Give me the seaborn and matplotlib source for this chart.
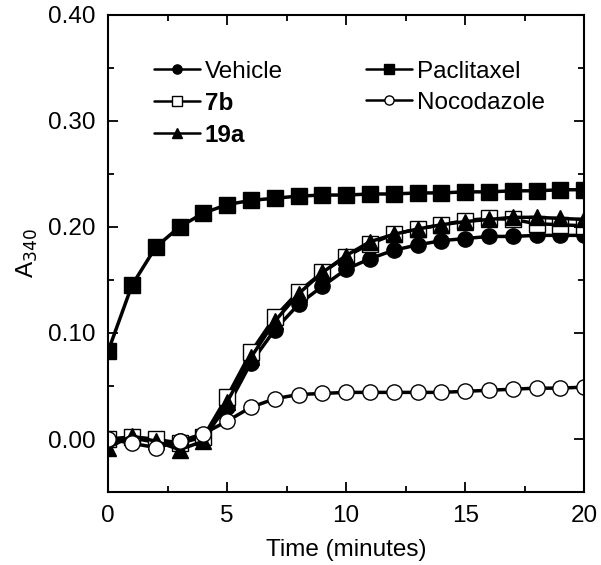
import numpy as np
import seaborn as sns
import matplotlib.pyplot as plt
from matplotlib.ticker import MultipleLocator, FormatStrFormatter

time_min = list(range(0, 21))

vehicle = [0.000, 0.001, -0.003, -0.002, 0.003, 0.030, 0.072, 0.103, 0.127, 0.144,
           0.160, 0.170, 0.178, 0.183, 0.187, 0.189, 0.191, 0.191, 0.192, 0.192, 0.192]
cmpd_7b = [0.000, 0.002, 0.000, -0.004, 0.002, 0.040, 0.082, 0.115, 0.139, 0.157,
           0.172, 0.184, 0.193, 0.198, 0.202, 0.206, 0.208, 0.207, 0.203, 0.202, 0.201]
cmpd_19a = [-0.008, 0.003, -0.002, -0.010, -0.002, 0.035, 0.077, 0.111, 0.137, 0.157,
            0.173, 0.186, 0.193, 0.198, 0.202, 0.205, 0.207, 0.209, 0.209, 0.208, 0.207]
paclitaxel = [0.083, 0.145, 0.181, 0.200, 0.213, 0.221, 0.225, 0.227, 0.229, 0.230,
              0.230, 0.231, 0.231, 0.232, 0.232, 0.233, 0.233, 0.234, 0.234, 0.235, 0.235]
nocodazole = [0.000, -0.004, -0.008, -0.002, 0.005, 0.017, 0.030, 0.038, 0.042, 0.043,
              0.044, 0.044, 0.044, 0.044, 0.044, 0.045, 0.046, 0.047, 0.048, 0.048, 0.049]

sns.set_style("ticks")
plt.rcParams['font.family'] = ['Liberation Sans', 'DejaVu Sans']
plt.rcParams['text.color'] = 'black'
plt.rcParams['axes.labelcolor'] = 'black'
plt.rcParams['xtick.color'] = 'black'
plt.rcParams['ytick.color'] = 'black'
plt.rcParams['axes.edgecolor'] = 'black'

fig, ax = plt.subplots(figsize=(6.01, 5.65), dpi=100)
fig.subplots_adjust(left=0.18, right=0.972, top=0.974, bottom=0.129)

series = [
    ("Vehicle", vehicle, "o", "black"),
    ("7b", cmpd_7b, "s", "white"),
    ("19a", cmpd_19a, "^", "black"),
    ("Paclitaxel", paclitaxel, "s", "black"),
    ("Nocodazole", nocodazole, "o", "white"),
]
for name, vals, mk, fc in series:
    sns.lineplot(x=time_min, y=vals, ax=ax, color="black", linewidth=2.5,
                 marker=mk, markersize=11, markerfacecolor=fc,
                 markeredgecolor="black", markeredgewidth=1.0, label=name)

fs = 17.5
ax.set_xlim(0, 20)
ax.set_ylim(-0.05, 0.40)
ax.xaxis.set_major_locator(MultipleLocator(5))
ax.xaxis.set_minor_locator(MultipleLocator(2.5))
ax.yaxis.set_major_locator(MultipleLocator(0.10))
ax.yaxis.set_minor_locator(MultipleLocator(0.05))
ax.yaxis.set_major_formatter(FormatStrFormatter('%.2f'))
ax.set_yticks([0.0, 0.1, 0.2, 0.3, 0.4])
ax.tick_params(which='both', direction='in', top=True, right=True, labelsize=fs, width=1.3)
ax.tick_params(which='major', length=7, pad=9)
ax.tick_params(which='minor', length=4)
for sp in ax.spines.values():
    sp.set_linewidth(1.5)

ax.set_xlabel("Time (minutes)", fontsize=fs, labelpad=9)
ax.set_ylabel("A$_{340}$", fontsize=fs, labelpad=6)

leg = ax.legend(ncol=2, frameon=False, loc='upper left', bbox_to_anchor=(0.065, 0.934),
                fontsize=fs, markerscale=0.6, handlelength=1.9, handletextpad=0.2,
                columnspacing=3.4, labelspacing=0.37, borderaxespad=0.2)
for t in leg.get_texts():
    if t.get_text() in ("7b", "19a"):
        t.set_fontweight("bold")
for h in leg.legend_handles:
    h.set_linewidth(1.8)

fig.savefig("out.png", dpi=100)
